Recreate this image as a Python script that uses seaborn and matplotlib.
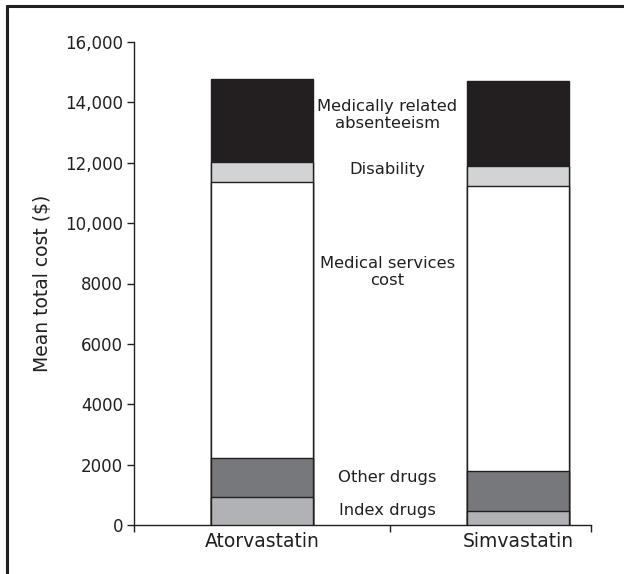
import matplotlib
matplotlib.use("Agg")
import matplotlib.pyplot as plt
from matplotlib.lines import Line2D
from matplotlib.ticker import FixedLocator
import numpy as np
import pandas as pd
import seaborn as sns

# Mean total cost components per statin ($)
drugs = ["Atorvastatin", "Simvastatin"]
components = ["Index drugs", "Other drugs", "Medical services cost",
              "Disability", "Medically related absenteeism"]
index_drugs = [940, 470]
other_drugs = [1290, 1320]
medical_services = [9140, 9450]
disability = [660, 660]
absenteeism = [2750, 2820]

layer_values = [index_drugs, other_drugs, medical_services, disability, absenteeism]
layer_colors = ["#b1b2b5", "#77787b", "#ffffff", "#d1d3d4", "#231f20"]
label_text = ["Index drugs", "Other drugs", "Medical services\ncost",
              "Disability", "Medically related\nabsenteeism"]
label_y = [470, 1590, 8390, 11760, 13580]

sns.set_theme(style="white")
plt.rcParams["font.family"] = ["DejaVu Sans"]

fig = plt.figure(figsize=(6.24, 5.74), dpi=100)
ax = fig.add_axes([134 / 624, 49 / 574, (591 - 134) / 624, (525 - 42) / 574])

stack = np.cumsum(np.array(layer_values), axis=0)
# Draw the cumulative totals from the top layer down so each segment shows
for i in reversed(range(len(components))):
    df = pd.DataFrame({"drug": drugs, "cost": stack[i]})
    sns.barplot(data=df, x="drug", y="cost", color=layer_colors[i],
                saturation=1, width=0.40, edgecolor="#231f20", linewidth=1.0,
                ax=ax, zorder=2 + (len(components) - i))

for txt, yv in zip(label_text, label_y):
    ax.text(0.49, yv, txt, ha="center", va="center", fontsize=11.8,
            color="#231f20", linespacing=1.2)

ax.set_ylim(0, 16000)
ax.set_xlim(-0.5, 1.285)
yt = np.arange(0, 16001, 2000)
ax.set_yticks(yt)
ax.set_yticklabels([f"{v:,}" if v >= 10000 else f"{v}" for v in yt],
                   fontsize=12, color="#231f20")
ax.set_xticks([0, 1])
ax.set_xticklabels(drugs, fontsize=13.5, color="#231f20")
ax.xaxis.set_minor_locator(FixedLocator([-0.5, 0.5, 1.285]))
ax.tick_params(axis="x", which="major", length=0, pad=5)
ax.tick_params(axis="x", which="minor", bottom=True, length=5, width=1,
               color="#231f20", direction="out")
ax.tick_params(axis="y", left=True, length=5, width=1, color="#231f20",
               direction="out", pad=3)
ax.set_xlabel("")
ax.set_ylabel("Mean total cost ($)", fontsize=13.5, color="#231f20", labelpad=9)

for side in ["top", "right"]:
    ax.spines[side].set_visible(False)
for side in ["left", "bottom"]:
    ax.spines[side].set_color("#231f20")
    ax.spines[side].set_linewidth(1.0)

# Outer frame lines along the left and top edges of the figure
fig.add_artist(Line2D([7 / 624, 7 / 624], [0, 1 - 6 / 574], color="#231f20",
                      lw=2.2, transform=fig.transFigure))
fig.add_artist(Line2D([7 / 624, 1], [1 - 6 / 574, 1 - 6 / 574], color="#231f20",
                      lw=2.2, transform=fig.transFigure))

fig.savefig("out.png", dpi=100)
